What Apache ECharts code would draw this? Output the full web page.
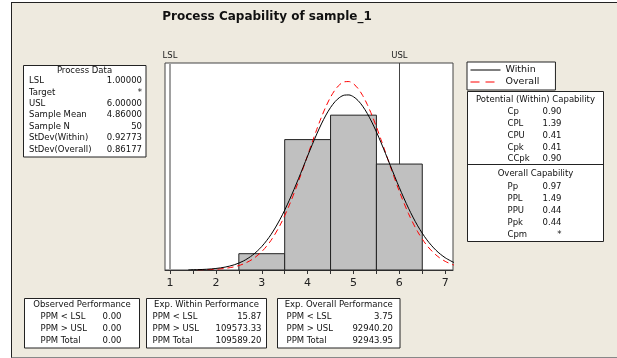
<!DOCTYPE html>
<html>
  <head>
    <meta charset="utf-8" />
  </head>
  <body style="margin: 0; background: #fff;">
    <div style="position: absolute; left: 11px; top: 2px; width: 606px; height: 354px; background: #eeeadf; border-left: 1px solid #222; border-top: 1px solid #222; border-bottom: 1px solid #888;"></div>
    <div id="container" style="position: absolute; left: 0; top: 0; width: 617px; height: 358px;"></div>
    <script src="https://cdn.jsdelivr.net/npm/echarts@6/dist/echarts.min.js"></script>
    <script type="text/javascript">
      // histogram of sample_1 (bin width 1)
      var binStarts = [2.5, 3.5, 4.5, 5.5];
      var binCounts = [2, 16, 19, 13];
      var binWidth = 1;

      // fitted normal curves (in count units)
      var curveX = [1.4, 1.6, 1.8, 2.0, 2.2, 2.4, 2.6, 2.8, 3.0, 3.2, 3.4, 3.6, 3.8,
        4.0, 4.1, 4.2, 4.3, 4.4, 4.5, 4.6, 4.7, 4.8, 4.9, 5.0, 5.1, 5.2, 5.3, 5.4, 5.5, 5.6, 5.7, 5.8,
        6.0, 6.2, 6.4, 6.6, 6.8, 7.0, 7.2];
      var withinCurve = [0.021, 0.045, 0.093, 0.186, 0.353, 0.639, 1.106, 1.828, 2.881, 4.337, 6.233, 8.549, 11.193,
        13.991, 15.371, 16.693, 17.919, 19.013, 19.941, 20.672, 21.183, 21.455, 21.48, 21.257, 20.792, 20.104,
        19.213, 18.15, 16.947, 15.641, 14.27, 12.868,
        10.106, 7.576, 5.421, 3.703, 2.415, 1.503, 0.893];
      var overallCurve = ['-', 0.018, 0.042, 0.094, 0.198, 0.394, 0.743, 1.33, 2.254, 3.62, 5.51, 7.949, 10.864,
        14.068, 15.69, 17.264, 18.741, 20.074, 21.213, 22.117, 22.751, 23.091, 23.122, 22.844, 22.266, 21.414,
        20.318, 19.021, 17.568, 16.01, 14.394, 12.768,
        9.649, 6.91, 4.689, 3.014, 1.837, 1.06, 0.58];

      var specNames = ["LSL", "USL"];
      var specValues = [1, 6];
      var xTickLabels = [1, 2, 3, 4, 5, 6, 7];
      var xTicks = [1, 1.5, 2, 2.5, 3, 3.5, 4, 4.5, 5, 5.5, 6, 6.5, 7];

      var processLabels = ["LSL", "Target", "USL", "Sample Mean", "Sample N", "StDev(Within)", "StDev(Overall)"];
      var processValues = ["1.00000", "*", "6.00000", "4.86000", "50", "0.92773", "0.86177"];
      var potentialLabels = ["Cp", "CPL", "CPU", "Cpk", "CCpk"];
      var potentialValues = ["0.90", "1.39", "0.41", "0.41", "0.90"];
      var overallLabels = ["Pp", "PPL", "PPU", "Ppk", "Cpm"];
      var overallValues = ["0.97", "1.49", "0.44", "0.44", "*"];
      var perfLabels = ["PPM < LSL", "PPM > USL", "PPM Total"];
      var observedPerf = ["0.00", "0.00", "0.00"];
      var withinPerf = ["15.87", "109573.33", "109589.20"];
      var overallPerf = ["3.75", "92940.20", "92943.95"];

      var FONT = "DejaVu Sans";
      var FS = 8.5;

      function txt(x, y, s, align, size, weight) {
        return {
          type: "text",
          x: x,
          y: y,
          silent: true,
          style: {
            text: s,
            fill: "#111",
            font: (weight || "normal") + " " + (size || FS) + "px '" + FONT + "'",
            textAlign: align || "left",
            textVerticalAlign: "middle"
          }
        };
      }
      function box(x, y, w, h) {
        return {
          type: "rect",
          silent: true,
          shape: { x: x, y: y, width: w, height: h },
          style: { fill: "#fff", stroke: "#222", lineWidth: 1 }
        };
      }
      function hline(x1, x2, y) {
        return {
          type: "line",
          silent: true,
          shape: { x1: x1, y1: y, x2: x2, y2: y },
          style: { stroke: "#222", lineWidth: 1 }
        };
      }

      var els = [];
      els.push(txt(267, 17, "Process Capability of sample_1", "center", 12, "bold"));

      // Process Data
      els.push(box(23.5, 65.5, 122.5, 91.5));
      els.push(txt(84.5, 70.5, "Process Data", "center"));
      processLabels.forEach(function (l, i) {
        els.push(txt(29, 81 + i * 11.4, l));
        els.push(txt(142, 81 + i * 11.4, processValues[i], "right"));
      });

      // capability table
      els.push(box(467.5, 91.5, 136, 150));
      els.push(hline(467.5, 603.5, 164.5));
      els.push(txt(535.5, 99.5, "Potential (Within) Capability", "center"));
      potentialLabels.forEach(function (l, i) {
        els.push(txt(507.5, 112 + i * 11.8, l));
        els.push(txt(561.5, 112 + i * 11.8, potentialValues[i], "right"));
      });
      els.push(txt(535.5, 173.5, "Overall Capability", "center"));
      overallLabels.forEach(function (l, i) {
        els.push(txt(507.5, 187 + i * 12, l));
        els.push(txt(561.5, 187 + i * 12, overallValues[i], "right"));
      });

      // performance tables
      var perfBoxes = [
        { x: 24.5, w: 115, title: "Observed Performance", lx: 40.5, vx: 121.5, vals: observedPerf },
        { x: 146.5, w: 120, title: "Exp. Within Performance", lx: 152.5, vx: 261.5, vals: withinPerf },
        { x: 277.5, w: 122.5, title: "Exp. Overall Performance", lx: 286.5, vx: 393, vals: overallPerf }
      ];
      perfBoxes.forEach(function (b) {
        els.push(box(b.x, 298.5, b.w, 49.5));
        els.push(txt(b.x + b.w / 2, 305, b.title, "center"));
        perfLabels.forEach(function (l, i) {
          els.push(txt(b.lx, 317 + i * 12, l));
          els.push(txt(b.vx, 317 + i * 12, b.vals[i], "right"));
        });
      });

      var myChart = echarts.init(document.getElementById("container"));
      var option = {
        animation: false,
        backgroundColor: "transparent",
        textStyle: { fontFamily: FONT },
        legend: {
          orient: "vertical",
          left: 467,
          top: 62,
          padding: [3, 16, 3, 3],
          itemWidth: 30,
          itemHeight: 10,
          itemGap: 2,
          backgroundColor: "#fff",
          borderColor: "#222",
          borderWidth: 1,
          borderRadius: 0,
          itemStyle: { color: "transparent", borderColor: "transparent", borderWidth: 0, opacity: 0 },
          lineStyle: { width: 1 },
          textStyle: { fontSize: 9.5, color: "#111", fontFamily: FONT },
          data: [
            { name: "Within" },
            { name: "Overall", lineStyle: { type: [9, 6] } }
          ]
        },
        grid: {
          left: 165,
          right: 164,
          top: 63,
          bottom: 88,
          show: true,
          backgroundColor: "#fff",
          borderColor: "#444",
          borderWidth: 1
        },
        xAxis: {
          type: "value",
          min: 0.89,
          max: 7.17,
          splitLine: { show: false },
          axisLine: { onZero: false, lineStyle: { color: "#333" } },
          axisTick: { length: 4, lineStyle: { color: "#333" }, customValues: xTicks },
          axisLabel: { fontSize: 11, color: "#222", margin: 8, customValues: xTickLabels }
        },
        yAxis: {
          type: "value",
          min: 0,
          max: 25.4,
          show: false
        },
        graphic: { elements: els },
        series: [
          {
            type: "line",
            name: "spec",
            data: [],
            z: 1,
            markLine: {
              silent: true,
              z: 1,
              symbol: ["none", "none"],
              label: { position: "end", formatter: "{b}", fontSize: 8.5, color: "#222", distance: 3 },
              data: specNames.map(function (n, i) {
                return {
                  name: n,
                  xAxis: specValues[i],
                  lineStyle: i === 0
                    ? { color: "#a0a0a0", width: 2, type: "solid" }
                    : { color: "#444", width: 1, type: "solid" }
                };
              })
            }
          },
          {
            type: "custom",
            name: "hist",
            z: 2,
            data: binStarts.map(function (s, i) { return [s, s + binWidth, binCounts[i]]; }),
            renderItem: function (params, api) {
              var p0 = api.coord([api.value(0), 0]);
              var p1 = api.coord([api.value(1), api.value(2)]);
              return {
                type: "rect",
                shape: { x: p0[0], y: p1[1], width: p1[0] - p0[0], height: p0[1] - p1[1] },
                style: { fill: "#c0c0c0", stroke: "#222", lineWidth: 1 }
              };
            }
          },
          {
            type: "line",
            name: "Within",
            z: 4,
            smooth: 0.3,
            symbol: "none",
            lineStyle: { color: "#000", width: 1 },
            itemStyle: { color: "#000" },
            data: curveX.map(function (x, i) { return [x, withinCurve[i]]; })
          },
          {
            type: "line",
            name: "Overall",
            z: 3,
            smooth: 0.3,
            symbol: "none",
            lineStyle: { color: "#ff0000", width: 1, type: [6, 4] },
            itemStyle: { color: "#ff0000" },
            data: curveX.map(function (x, i) { return [x, overallCurve[i]]; })
          }
        ]
      };
      myChart.setOption(option);
    </script>
  </body>
</html>
